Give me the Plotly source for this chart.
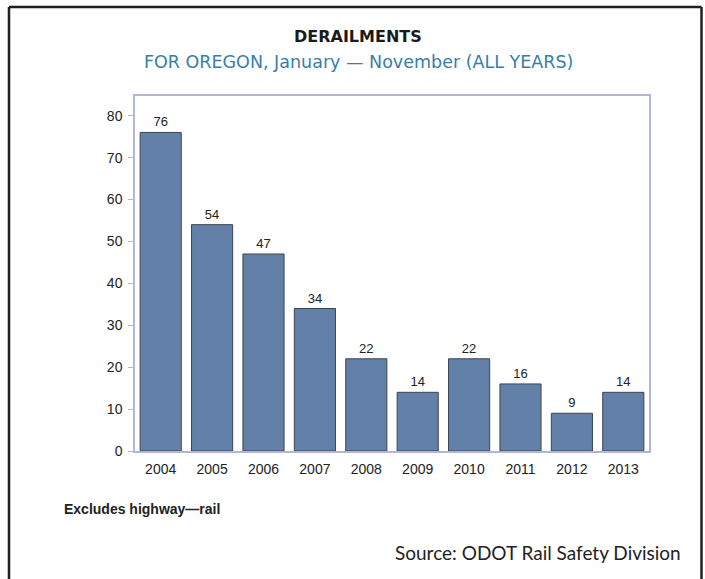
import plotly.graph_objects as go

years = ["2004", "2005", "2006", "2007", "2008", "2009", "2010", "2011", "2012", "2013"]
derailments = [76, 54, 47, 34, 22, 14, 22, 16, 9, 14]
y_ticks = [0, 10, 20, 30, 40, 50, 60, 70, 80]

title_text = "DERAILMENTS"
subtitle_text = "FOR OREGON, January \u2014 November (ALL YEARS)"
note_text = "Excludes highway\u2014rail"
source_text = "Source: ODOT Rail Safety Division"

W, H = 705, 579
PL, PR, PT, PB = 135, 649, 96, 451
L, T, R, B = PL, PT, W - PR, H - PB
pw, ph = PR - PL, PB - PT

def px(x):
    return (x - PL) / pw

def py(y):
    return (PB - y) / ph

fig = go.Figure()
fig.add_trace(go.Bar(
    x=years, y=derailments,
    marker=dict(color="#6380a8", line=dict(color="#3c4450", width=1)),
    width=0.8,
    text=[str(v) for v in derailments],
    textposition="outside",
    textfont=dict(family="Liberation Sans, Arial", size=13, color="#222"),
    cliponaxis=False,
    hoverinfo="skip",
))

fig.update_layout(
    width=W, height=H,
    margin=dict(l=L, r=R, t=T, b=B, pad=0),
    paper_bgcolor="white", plot_bgcolor="white",
    showlegend=False,
    font=dict(family="Liberation Sans, Arial", size=14, color="#222"),
    xaxis=dict(
        range=[-0.5, 9.5], showline=True, mirror=True, linecolor="#b4b6d6", linewidth=1.5,
        ticks="", showgrid=False, tickfont=dict(size=14, color="#222"), ticklabelstandoff=4,
    ),
    yaxis=dict(
        range=[0, 84.7], tickvals=y_ticks, showline=True, mirror=True, linecolor="#b4b6d6",
        linewidth=1.5, ticks="outside", ticklen=5, tickcolor="#b4b6d6", showgrid=False,
        zeroline=False, tickfont=dict(size=14, color="#222"), ticklabelstandoff=3,
    ),
    bargap=0.2,
)

fig.add_annotation(text="<b>" + title_text + "</b>", x=px(358), y=py(36), xref="paper", yref="paper",
                   showarrow=False, xanchor="center", yanchor="middle",
                   font=dict(family="DejaVu Sans", size=16, color="#1a1a1a"))
fig.add_annotation(text=subtitle_text, x=px(358), y=py(62), xref="paper", yref="paper",
                   showarrow=False, xanchor="center", yanchor="middle",
                   font=dict(family="DejaVu Sans", size=17.5, color="#3a7ea6"))
fig.add_annotation(text="<b>" + note_text + "</b>", x=px(62), y=py(509), xref="paper", yref="paper",
                   showarrow=False, xanchor="left", yanchor="middle",
                   font=dict(family="Liberation Sans, Arial", size=14, color="#222"))
fig.add_annotation(text=source_text, x=px(683), y=py(552), xref="paper", yref="paper",
                   showarrow=False, xanchor="right", yanchor="middle",
                   font=dict(family="Lato, Open Sans", size=19, color="#222"))

# outer frame (top, left, right; bottom runs past the image)
frame = dict(color="#231f20", width=2.5)
fig.add_shape(type="line", xref="paper", yref="paper", x0=px(9), x1=px(9), y0=py(7), y1=py(585), line=frame)
fig.add_shape(type="line", xref="paper", yref="paper", x0=px(701.5), x1=px(701.5), y0=py(7), y1=py(585), line=frame)
fig.add_shape(type="line", xref="paper", yref="paper", x0=px(9), x1=px(701.5), y0=py(7), y1=py(7), line=frame)

fig.write_html("out.html", config={"displayModeBar": False},
               post_script="document.body.style.margin='0';document.body.style.overflow='hidden';")
